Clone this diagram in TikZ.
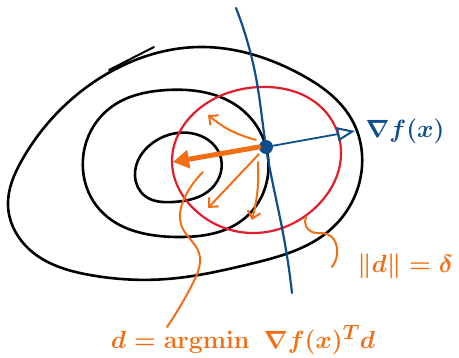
\documentclass[tikz,border=0pt]{standalone}
\usepackage{amsmath,amssymb}
\usepackage{tikz}
\usetikzlibrary{arrows.meta, positioning, calc, hobby}
\definecolor{inkblue}{RGB}{14,78,140}
\definecolor{inkred}{RGB}{226,30,45}
\definecolor{inkorange}{RGB}{242,110,20}

\begin{document}
\begin{tikzpicture}[
  x=1pt, y=-1pt,
  line cap=round, line join=round,
  use Hobby shortcut,
  contour/.style={draw=black, line width=2.6pt},
  ball/.style   ={draw=inkred, line width=2.2pt},
  tangent/.style={draw=inkblue, line width=2.2pt},
  gradarrow/.style={draw=inkblue, line width=1.8pt,
    -{Triangle[open, length=18pt, width=14pt, line width=2pt]}},
  steparrow/.style={draw=inkorange, line width=5pt,
    -{Triangle[length=16pt, width=18pt]}},
  trialarrow/.style={draw=inkorange, line width=2pt,
    -{Straight Barb[length=7pt, width=13pt, line width=2pt]}},
  lead/.style   ={draw=inkorange, line width=2pt},
  label/.style  ={font=\fontsize{32}{34}\selectfont\boldmath, inner sep=0pt}
]
\useasboundingbox (0,0) rectangle (459,357);

% Level sets
\draw[contour, closed=true] (8,205) .. (22,160) .. (100,78)
  .. (200,47) .. (300,74) .. (352,120) .. (361,175) .. (330,230)
  .. (250,264) .. (167,279) .. (90,275) .. (30,250);
\draw[contour, line width=2pt] (109,70) -- (154,47);
\draw[contour, closed=true] (83,170) .. (110,108) .. (167,90)
  .. (240,108) .. (268,157) .. (245,218) .. (177,237) .. (100,210);
\draw[contour, closed=true] (135,176) .. (157,140) .. (190,133) .. (220,155)
  .. (212,188) .. (173,202) .. (145,196);

% Trust region
\draw[ball, closed=true] (172,160) .. (200,108) .. (260,87) .. (322,108)
  .. (341,155) .. (315,208) .. (255,233) .. (195,210);

% Tangent line and current point
\draw[tangent] (236,8) .. (257,83) .. (266,147) .. (283,233) .. (292,293);
\node[circle, fill=inkblue, minimum size=14pt, inner sep=0pt] (xk) at (266,147) {};

% Labels
\node[label, text=inkblue]   (grad) at (405,131) {$\nabla f(x)$};
\node[label, text=inkorange] (norm) at (405,266) {$\|d\| = \delta$};
\node[label, text=inkorange] (argm) at (243,340) {$d = \operatorname{argmin}\ \nabla f(x)^{T} d$};

\coordinate (gtip)  at (355,131);
\coordinate (stip)  at (173,162);
\coordinate (tip1)  at (208,115);
\coordinate (tip2)  at (208,208);
\coordinate (tip3)  at (252,220);
\coordinate (atop)  at (203,172);
\coordinate (aend)  at (167,327);
\coordinate (ntop)  at (306,217);
\coordinate (nend)  at (332,267);

% Gradient and steps
\draw[gradarrow] (xk) -- (gtip);
\draw[trialarrow] (xk.north west) ++(-5,-2) to[bend left=12] (tip1);
\draw[trialarrow] (xk.south west) ++(-2,2) -- (tip2);
\draw[trialarrow] (xk.south) ++(-8,8) to[bend left=8] (tip3);
\draw[steparrow] (xk.west) -- (stip);

% Leaders to the labels
\draw[lead] (atop) .. (187,193) .. (182,227) .. (199,253) .. (193,283) .. (aend);
\draw[lead] (ntop) .. (312,232) .. (327,234) .. (337,248) .. (nend);

\end{tikzpicture}
\end{document}
